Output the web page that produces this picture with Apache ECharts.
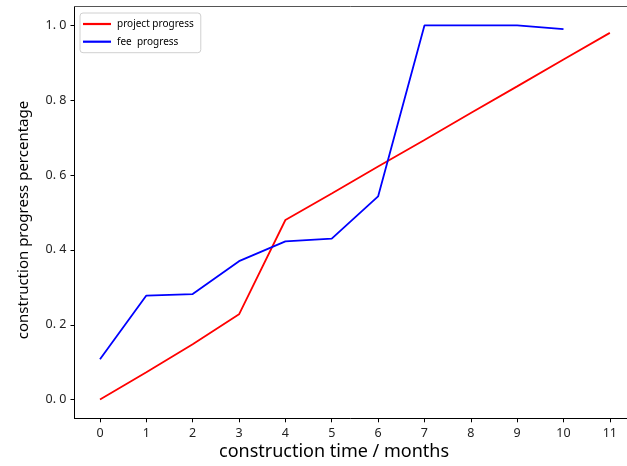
<!DOCTYPE html>
<html>
<head>
<meta charset="utf-8">
<script src="https://cdn.jsdelivr.net/npm/echarts@6/dist/echarts.min.js"></script>
<style>
html,body{margin:0;padding:0;background:#fff;}
#c{width:627px;height:466px;}
</style>
</head>
<body>
<div id="c"></div>
<script>
var months = [0, 1, 2, 3, 4, 5, 6, 7, 8, 9, 10, 11];
var projectProgress = [0.0, 0.073, 0.148, 0.228, 0.48, 0.551, 0.623, 0.694, 0.766, 0.837, 0.909, 0.98];
var feeMonths = [0, 1, 2, 3, 4, 5, 6, 7, 8, 9, 10];
var feeProgress = [0.108, 0.278, 0.282, 0.370, 0.423, 0.430, 0.543, 1.0, 1.0, 1.0, 0.99];
var xTicks = [0, 1, 2, 3, 4, 5, 6, 7, 8, 9, 10, 11];
var yTicks = [0, 0.2, 0.4, 0.6, 0.8, 1.0];
var seriesNames = ['project progress', 'fee  progress'];
var xTitle = 'construction time / months';
var yTitle = 'construction progress percentage';

function pairs(xs, ys) { return xs.map(function (x, i) { return [x, ys[i]]; }); }

var chart = echarts.init(document.getElementById('c'), null, {renderer: 'canvas'});
var font = 'Noto Sans';
chart.setOption({
  animation: false,
  backgroundColor: '#ffffff',
  grid: {left: 74.5, right: 0, top: 6.7, bottom: 47.7, show: false},
  legend: {
    orient: 'vertical', left: 80, top: 13,
    data: seriesNames,
    itemWidth: 28, itemHeight: 2.2, itemGap: 5.7,
    icon: 'rect',
    backgroundColor: '#fff', borderColor: '#d0d0d0', borderWidth: 1, borderRadius: 3,
    padding: [5, 7, 5, 3],
    textStyle: {fontFamily: font, fontSize: 10, lineHeight: 12, color: '#000', padding: [0, 0, 0, 1]}
  },
  graphic: [
    {type: 'text', left: 219, top: 443, style: {text: xTitle, font: '18px "Noto Sans"', fill: '#000'}},
    {type: 'text', x: 16, y: 220, rotation: Math.PI / 2,
      style: {text: yTitle, font: '15px "Noto Sans"', fill: '#000', align: 'center', verticalAlign: 'top'}}
  ],
  xAxis: [{
    type: 'value', min: -0.55, max: 11.37,
    axisLine: {show: true, onZero: false, lineStyle: {color: '#000', width: 1}},
    axisTick: {show: true, length: 4, customValues: xTicks, lineStyle: {color: '#000'}},
    axisLabel: {customValues: xTicks, margin: 9, fontFamily: font, fontSize: 12.5, color: '#222'},
    splitLine: {show: false}
  }, {
    type: 'value', min: -0.55, max: 11.37, position: 'top',
    axisLine: {show: true, onZero: false, lineStyle: {color: '#555', width: 1}},
    axisTick: {show: false}, axisLabel: {show: false}, splitLine: {show: false}
  }],
  yAxis: {
    type: 'value', min: -0.05, max: 1.05,
    axisLine: {show: true, onZero: false, lineStyle: {color: '#000', width: 1}},
    axisTick: {show: true, length: 4, customValues: yTicks, lineStyle: {color: '#000'}},
    axisLabel: {customValues: yTicks, margin: 8, fontFamily: font, fontSize: 12.5, color: '#222',
      formatter: function (v) { return v.toFixed(1).replace('.', '. '); }},
    splitLine: {show: false}
  },
  series: [
    {name: seriesNames[0], type: 'line', data: pairs(months, projectProgress), showSymbol: false, symbol: 'none',
      lineStyle: {color: '#ff0000', width: 1.8}, itemStyle: {color: '#ff0000'}},
    {name: seriesNames[1], type: 'line', data: pairs(feeMonths, feeProgress), showSymbol: false, symbol: 'none',
      lineStyle: {color: '#0000ff', width: 1.8}, itemStyle: {color: '#0000ff'}}
  ]
});
</script>
</body>
</html>
